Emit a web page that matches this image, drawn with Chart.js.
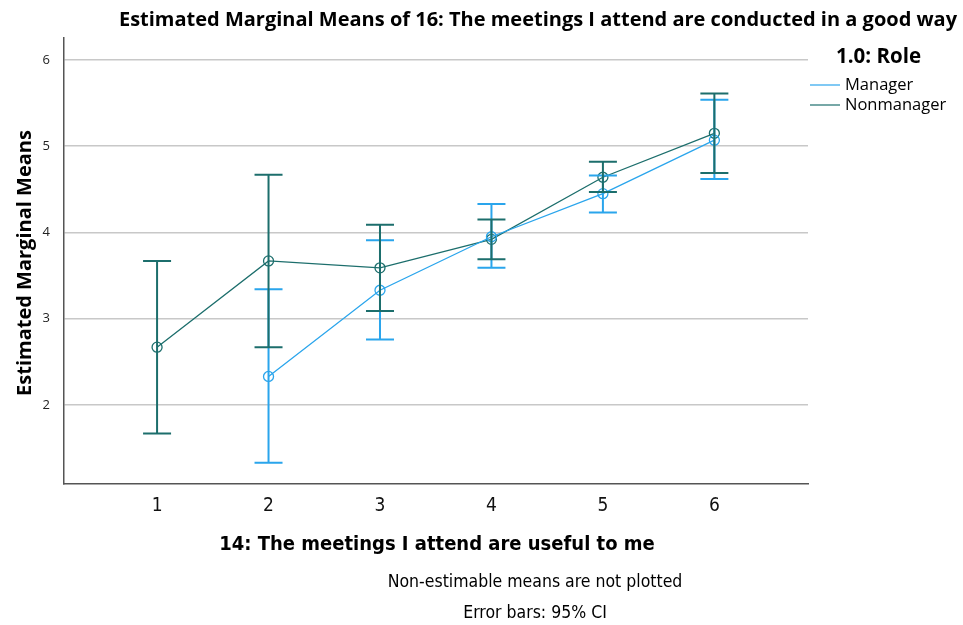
<!DOCTYPE html>
<html>
<head>
<meta charset="utf-8">
<script src="https://cdn.jsdelivr.net/npm/chart.js@4.4.1/dist/chart.umd.min.js"></script>
<style>
  html, body { margin: 0; padding: 0; background: #fff; }
  #wrap { width: 963px; height: 625px; }
</style>
</head>
<body>
<div id="wrap"><canvas id="emm"></canvas></div>
<script>
// data
var categories = [1, 2, 3, 4, 5, 6];
var yTicks = [2, 3, 4, 5, 6];

var managerMean  = [null, 2.33, 3.33, 3.95, 4.45, 5.07];
var managerLow   = [null, 1.33, 2.76, 3.59, 4.23, 4.62];
var managerHigh  = [null, 3.34, 3.91, 4.33, 4.66, 5.54];

var nonmanagerMean = [2.67, 3.67, 3.59, 3.92, 4.64, 5.15];
var nonmanagerLow  = [1.67, 2.67, 3.09, 3.69, 4.47, 4.69];
var nonmanagerHigh = [3.67, 4.67, 4.09, 4.15, 4.82, 5.61];

var blue = '#2aa5ec';
var teal = '#1c6e6c';
var narrow = '"Liberation Sans Narrow", "DejaVu Sans Condensed"';

function points(means) {
  var out = [];
  for (var i = 0; i < categories.length; i++) {
    if (means[i] !== null) out.push({ x: categories[i], y: means[i] });
  }
  return out;
}

/* error bars drawn through the scales */
var errorBars = {
  id: 'errorBars',
  afterDatasetsDraw: function(chart) {
    var ctx = chart.ctx;
    var xs = chart.scales.x, ys = chart.scales.y;
    chart.data.datasets.forEach(function(ds) {
      ctx.save();
      ctx.strokeStyle = ds.borderColor;
      ctx.lineWidth = 2;
      for (var i = 0; i < categories.length; i++) {
        if (ds.low[i] === null) continue;
        var px = xs.getPixelForValue(categories[i]);
        var lo = ys.getPixelForValue(ds.low[i]);
        var hi = ys.getPixelForValue(ds.high[i]);
        ctx.beginPath();
        ctx.moveTo(px, lo); ctx.lineTo(px, hi);
        ctx.moveTo(px - 14, lo); ctx.lineTo(px + 14, lo);
        ctx.moveTo(px - 14, hi); ctx.lineTo(px + 14, hi);
        ctx.stroke();
      }
      ctx.restore();
    });
  }
};

/* titles, legend and notes */
var texts = {
  id: 'texts',
  afterDraw: function(chart) {
    var ctx = chart.ctx;
    ctx.save();
    ctx.fillStyle = '#000';
    ctx.textBaseline = 'middle';

    ctx.textAlign = 'center';
    ctx.font = 'bold 20px "Open Sans"';
    ctx.fillText('Estimated Marginal Means of 16: The meetings I attend are conducted in a good way', 538, 20);

    ctx.font = 'bold 20px ' + narrow;
    ctx.fillText('14: The meetings I attend are useful to me', 437, 545);

    ctx.font = '17.5px ' + narrow;
    ctx.fillText('Non-estimable means are not plotted', 535, 582);
    ctx.fillText('Error bars: 95% CI', 535, 613);

    ctx.save();
    ctx.translate(25, 263);
    ctx.rotate(-Math.PI / 2);
    ctx.font = 'bold 20px "Open Sans"';
    ctx.fillText('Estimated Marginal Means', 0, 0);
    ctx.restore();

    // legend
    ctx.textAlign = 'left';
    ctx.font = 'bold 20.5px "Open Sans"';
    ctx.fillText('1.0: Role', 836, 57);
    ctx.font = '16.5px "Open Sans"';
    chart.data.datasets.forEach(function(ds, i) {
      var y = 85 + i * 20;
      ctx.strokeStyle = ds.borderColor;
      ctx.lineWidth = 1.2;
      ctx.beginPath();
      ctx.moveTo(810, y); ctx.lineTo(840, y);
      ctx.stroke();
      ctx.fillText(ds.label, 845, y);
    });
    ctx.restore();
  }
};

new Chart(document.getElementById('emm').getContext('2d'), {
  type: 'scatter',
  data: {
    datasets: [
      {
        label: 'Manager',
        data: points(managerMean),
        low: managerLow,
        high: managerHigh,
        borderColor: blue,
        backgroundColor: 'rgba(0,0,0,0)',
        showLine: true,
        borderWidth: 1.3,
        pointRadius: 5,
        pointBorderWidth: 1.3,
        pointHoverRadius: 5
      },
      {
        label: 'Nonmanager',
        data: points(nonmanagerMean),
        low: nonmanagerLow,
        high: nonmanagerHigh,
        borderColor: teal,
        backgroundColor: 'rgba(0,0,0,0)',
        showLine: true,
        borderWidth: 1.3,
        pointRadius: 5,
        pointBorderWidth: 1.3,
        pointHoverRadius: 5
      }
    ]
  },
  options: {
    responsive: true,
    maintainAspectRatio: false,
    animation: false,
    layout: { padding: { left: 0, top: 38, right: 155, bottom: 0 } },
    plugins: {
      legend: { display: false },
      tooltip: { enabled: false }
    },
    scales: {
      x: {
        type: 'linear',
        min: 0.165,
        max: 6.84,
        afterBuildTicks: function(axis) {
          axis.ticks = categories.map(function(v) { return { value: v }; });
        },
        afterFit: function(axis) { axis.height = 141; },
        grid: { display: false, drawTicks: false },
        border: { display: true, color: '#555', width: 1.5 },
        ticks: {
          padding: 11,
          color: '#111',
          font: { family: narrow, size: 19 }
        }
      },
      y: {
        type: 'linear',
        min: 1.083,
        max: 6.255,
        afterBuildTicks: function(axis) {
          axis.ticks = yTicks.map(function(v) { return { value: v }; });
        },
        afterFit: function(axis) { axis.width = 64; },
        grid: { color: '#c8c8c8', lineWidth: 1.5, drawTicks: false },
        border: { display: true, color: '#555', width: 1.5 },
        ticks: {
          padding: 14,
          color: '#222',
          font: { family: '"Open Sans"', size: 13 }
        }
      }
    }
  },
  plugins: [errorBars, texts]
});
</script>
</body>
</html>
